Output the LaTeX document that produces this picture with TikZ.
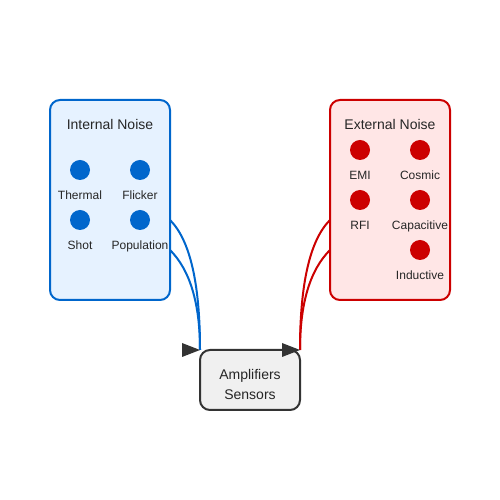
\documentclass[tikz,border=0pt]{standalone}
\usepackage{fontspec}
\setmainfont{Liberation Sans}
\definecolor{intblue}{HTML}{0066CC}
\definecolor{intfill}{HTML}{E6F2FF}
\definecolor{extred}{HTML}{CC0000}
\definecolor{extfill}{HTML}{FFE6E6}
\definecolor{ampfill}{HTML}{F0F0F0}
\definecolor{arrowgray}{HTML}{333333}

\begin{document}
\begin{tikzpicture}[x=1pt, y=1pt,
        group/.style={draw, line width=2pt, rounded corners=10pt, minimum width=120pt, minimum height=200pt, inner sep=0pt, outer sep=0pt},
        dot/.style={circle, inner sep=0pt, minimum size=20pt},
        title/.style={anchor=base, inner sep=0pt, text=black!85, font=\fontsize{14}{17}\selectfont},
        small/.style={anchor=base, inner sep=0pt, text=black!85, font=\fontsize{12}{14}\selectfont},
        link/.style={line width=2pt}]
        \useasboundingbox (0,0) rectangle (500,500);
        % internal noise
        \node[group, draw=intblue, fill=intfill] (internal) at (110, 300) {};
        \node[title] (intname) at (110, 370) {Internal Noise};
        \node[dot, fill=intblue] (thermal) at (80, 330) {};
        \node[dot, fill=intblue] (flicker) at (140, 330) {};
        \node[dot, fill=intblue] (shot) at (80, 280) {};
        \node[dot, fill=intblue] (population) at (140, 280) {};
        \node[small] (thermaltext) at (80, 300) {Thermal};
        \node[small] (flickertext) at (140, 300) {Flicker};
        \node[small] (shottext) at (80, 250) {Shot};
        \node[small] (populationtext) at (140, 250) {Population};
        % external noise
        \node[group, draw=extred, fill=extfill] (external) at (390, 300) {};
        \node[title] (extname) at (390, 370) {External Noise};
        \node[dot, fill=extred] (emi) at (360, 350) {};
        \node[dot, fill=extred] (cosmic) at (420, 350) {};
        \node[dot, fill=extred] (rfi) at (360, 300) {};
        \node[dot, fill=extred] (capacitive) at (420, 300) {};
        \node[dot, fill=extred] (inductive) at (420, 250) {};
        \node[small] (emitext) at (360, 320) {EMI};
        \node[small] (cosmictext) at (420, 320) {Cosmic};
        \node[small] (rfitext) at (360, 270) {RFI};
        \node[small] (capacitivetext) at (420, 270) {Capacitive};
        \node[small] (inductivetext) at (420, 220) {Inductive};
        % amplifiers
        \node[draw=arrowgray, fill=ampfill, line width=2pt, rounded corners=10pt, minimum width=100pt, minimum height=60pt, inner sep=0pt, outer sep=0pt, text width=100pt, align=center, text height=10pt, text depth=10pt, text=black!85, font=\fontsize{14}{20}\selectfont] (amp) at (250, 120) {Amplifiers\\Sensors};
        \draw[link, intblue] ([yshift=-20pt]internal.east) .. controls +(20,-20) and +(0,66.7) .. (amp.north west);
        \draw[link, intblue] ([yshift=-50pt]internal.east) .. controls +(20,-20) and +(0,46.7) .. (amp.north west);
        \draw[link, extred] ([yshift=-20pt]external.west) .. controls +(-20,-20) and +(0,66.7) .. (amp.north east);
        \draw[link, extred] ([yshift=-50pt]external.west) .. controls +(-20,-20) and +(0,46.7) .. (amp.north east);
        \fill[arrowgray] (amp.north west) -- ++(-18, 7) -- ++(0, -14) -- cycle;
        \fill[arrowgray] (amp.north east) -- ++(-18, 7) -- ++(0, -14) -- cycle;
\end{tikzpicture}
\end{document}
